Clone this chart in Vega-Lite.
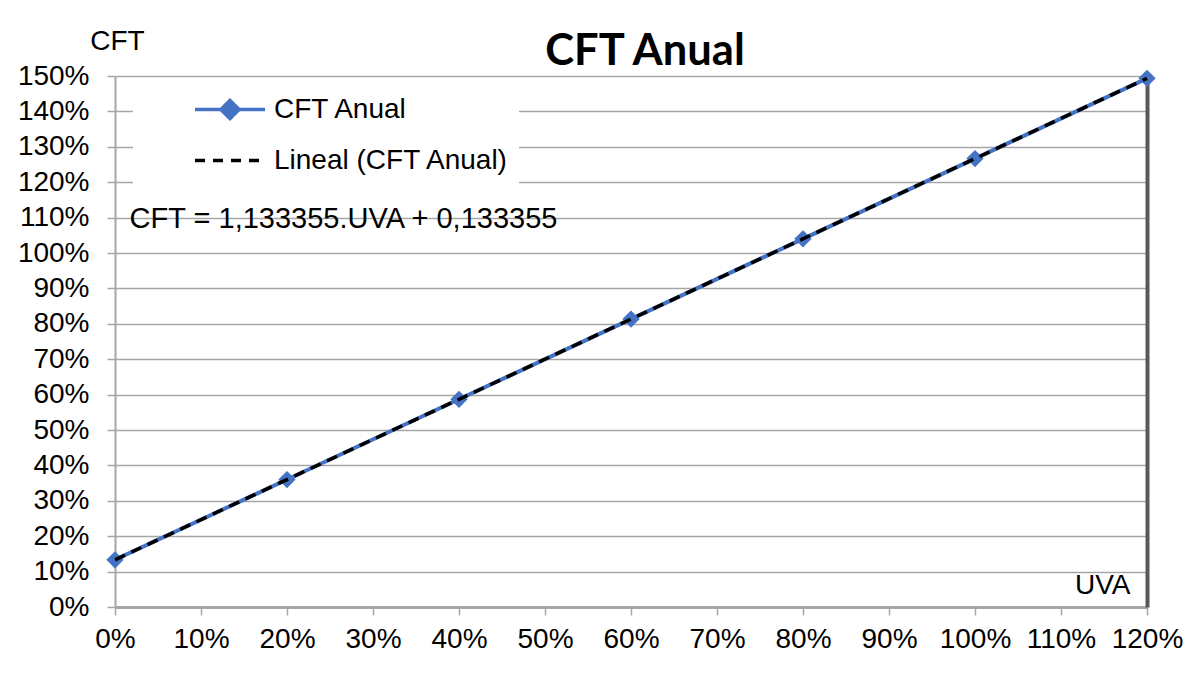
{
  "$schema": "https://vega.github.io/schema/vega-lite/v6.json",
  "width": 1032,
  "height": 531,
  "autosize": {"type": "none"},
  "padding": {"left": 115, "top": 76, "right": 43, "bottom": 66},
  "background": "white",
  "config": {"view": {"stroke": null}},
  "title": {"text": "CFT Anual", "font": "Lato", "fontSize": 43.5, "fontWeight": "bold", "color": "black", "anchor": "middle", "dx": 14, "dy": 92, "baseline": "alphabetic", "offset": 11},
  "data": {"values": [
    {"uva": 0.0, "cft": 0.133355},
    {"uva": 0.2, "cft": 0.360026},
    {"uva": 0.4, "cft": 0.586697},
    {"uva": 0.6, "cft": 0.813368},
    {"uva": 0.8, "cft": 1.040039},
    {"uva": 1.0, "cft": 1.26671},
    {"uva": 1.2, "cft": 1.493381}
  ]},
  "resolve": {"axis": {"y": "independent"}},
  "layer": [
    {
      "mark": {"type": "line", "strokeWidth": 4, "point": {"shape": "diamond", "size": 300, "filled": true, "opacity": 1}},
      "encoding": {
        "x": {"field": "uva", "type": "quantitative", "scale": {"domain": [0, 1.2], "nice": false, "zero": false},
          "axis": {"values": [0, 0.1, 0.2, 0.3, 0.4, 0.5, 0.6, 0.7, 0.8, 0.9, 1.0, 1.1, 1.2], "format": ".0%", "grid": false,
            "labelOverlap": false, "labelFlush": false,
            "labelFont": "Liberation Sans", "labelFontSize": 28, "labelColor": "black", "labelPadding": 10,
            "tickSize": 8, "tickColor": "#a6a6a6", "tickWidth": 1.5, "domainColor": "#a6a6a6", "domainWidth": 3,
            "title": "UVA", "titleX": 1015, "titleY": -14, "titleAlign": "right", "titleBaseline": "alphabetic",
            "titleFont": "Liberation Sans", "titleFontSize": 28, "titleFontWeight": "normal", "titleColor": "black"}},
        "y": {"field": "cft", "type": "quantitative", "scale": {"domain": [0, 1.5], "nice": false, "zero": false},
          "axis": {"values": [0, 0.1, 0.2, 0.3, 0.4, 0.5, 0.6, 0.7, 0.8, 0.9, 1.0, 1.1, 1.2, 1.3, 1.4, 1.5], "format": ".0%",
            "labelOverlap": false, "labelFlush": false,
            "labelFont": "Liberation Sans", "labelFontSize": 28, "labelColor": "black", "labelPadding": 18, "labelBaseline": "middle",
            "tickSize": 8, "tickColor": "#a6a6a6", "tickWidth": 1.5, "domainColor": "#a6a6a6", "domainWidth": 2,
            "gridColor": "#a6a6a6", "gridWidth": 1.5,
            "title": "CFT", "titleAngle": 0, "titleX": 2, "titleY": -27, "titleAlign": "center", "titleBaseline": "alphabetic",
            "titleFont": "Liberation Sans", "titleFontSize": 28, "titleFontWeight": "normal", "titleColor": "black"}},
        "color": {"datum": "CFT Anual", "type": "nominal",
          "scale": {"domain": ["CFT Anual", "Lineal (CFT Anual)"], "range": ["#4472C4", "#000000"]},
          "legend": {"title": null, "orient": "none", "legendX": 18, "legendY": 4, "fillColor": "white", "padding": 10,
            "symbolOffset": 67.5, "symbolSize": 1225, "symbolStrokeWidth": 3.5, "labelOffset": 24.5, "rowPadding": 15,
            "labelFont": "Liberation Sans", "labelFontSize": 28, "labelColor": "black", "labelLimit": 500,
            "encode": {"symbols": {"update": {
              "shape": {"signal": "datum.value === 'CFT Anual' ? 'M-2,0H2M-0.52,0L0,-0.52L0.52,0L0,0.52Z' : 'M-2,0H2'"},
              "strokeDash": {"signal": "datum.value === 'CFT Anual' ? [1,0] : [10,8]"},
              "fill": {"signal": "datum.value === 'CFT Anual' ? '#4472C4' : 'transparent'"},
              "fillOpacity": {"value": 1},
              "opacity": {"value": 1}
            }}}}}
      }
    },
    {
      "mark": {"type": "line", "strokeWidth": 3.5, "strokeDash": [11, 7]},
      "encoding": {
        "x": {"field": "uva", "type": "quantitative"},
        "y": {"field": "cft", "type": "quantitative",
          "axis": {"orient": "right", "labels": false, "ticks": false, "grid": false, "domainColor": "#595959", "domainWidth": 4, "title": null}},
        "color": {"datum": "Lineal (CFT Anual)", "type": "nominal"}
      }
    },
    {
      "data": {"values": [{"t": "CFT = 1,133355.UVA + 0,133355"}]},
      "mark": {"type": "text", "align": "left", "baseline": "alphabetic", "font": "Liberation Sans", "fontSize": 29, "color": "black"},
      "encoding": {
        "x": {"datum": 0.017, "type": "quantitative"},
        "y": {"datum": 1.07, "type": "quantitative", "axis": null},
        "text": {"field": "t"}
      }
    }
  ]
}
